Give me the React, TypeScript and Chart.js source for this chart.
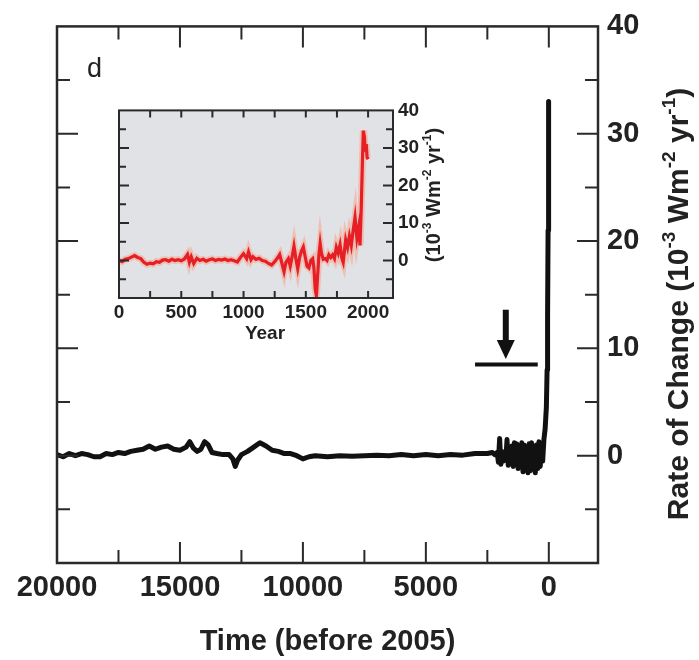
import React, { useEffect, useRef } from "react";
import { Chart, registerables } from "chart.js";

Chart.register(...registerables);

const FONT = "'Liberation Sans', Arial, Helvetica, sans-serif";
const INK = "#222222";

// ---------- main panel data (time before 2005, rate of change 10^-3 W m^-2 yr^-1) ----------
const mainTime = [
  20000, 19750, 19500, 19250, 19000, 18750, 18500, 18250, 18000, 17750, 17500, 17250, 17000, 16750,
  16500, 16250, 16000, 15750, 15500, 15250, 15000, 14750, 14600, 14450, 14300, 14150, 14000, 13850,
  13700, 13500, 13250, 13000, 12850, 12750, 12650, 12500, 12250, 12000, 11750, 11500, 11250, 11000,
  10750, 10500, 10250, 10000, 9750, 9500, 9000, 8500, 8000, 7500, 7000, 6500, 6000, 5500, 5000, 4500,
  4000, 3500, 3000, 2500, 2300, 2200, 2100, 2050, 2000, 1950, 1900, 1850, 1800, 1750, 1700, 1650,
  1600, 1550, 1500, 1450, 1400, 1350, 1300, 1250, 1200, 1150, 1100, 1050, 1000, 950, 900, 850, 800,
  750, 700, 650, 600, 550, 500, 450, 400, 350, 300, 250, 200, 150, 100, 70, 50, 30, 20, 10, 5, 0,
];
const mainRate = [
  0.1, -0.1, 0.2, 0.0, 0.2, 0.1, -0.1, -0.1, 0.2, 0.1, 0.3, 0.2, 0.4, 0.5,
  0.6, 0.9, 0.6, 0.8, 0.9, 0.6, 0.5, 0.8, 1.3, 0.7, 0.4, 0.6, 1.3, 1.0,
  0.3, 0.2, 0.1, 0.1, -0.3, -1.0, -0.4, 0.1, 0.4, 0.8, 1.2, 0.9, 0.5, 0.4,
  0.2, 0.2, 0.0, -0.3, -0.1, 0.0, -0.1, 0.0, -0.05, 0.0, 0.05, 0.0, 0.1, 0.0, 0.1, 0.0,
  0.1, 0.05, 0.2, 0.2, 0.3, 0.1, 0.3, -0.6, 1.6, -0.8, 0.4, -0.5, 0.2, -0.4, 1.5, -0.9,
  0.5, -0.7, 0.9, -1.0, 1.2, -0.8, 1.1, -1.2, 0.9, -0.6, 1.2, -1.5, 1.0, -1.3, 0.8, -1.6, 1.1,
  -1.4, 1.2, -0.9, 0.7, -1.6, 1.0, -1.2, 1.3, -1.0, 0.8, -0.5, 1.5, 2.5, 4.5, 8, 13, 21, 25, 31, 33, 28,
];
const mainXTickLabels = [20000, 15000, 10000, 5000, 0];
const mainXTickMarks = [17500, 15000, 12500, 10000, 7500, 5000, 2500, 0];
const mainYTickLabels = [0, 10, 20, 30, 40];
const mainYTickMarks = [-5, 0, 5, 10, 15, 20, 25, 30, 35];
const mainXTitle = "Time (before 2005)";
const mainYTitle = [
  { t: "Rate of Change (10", sup: false },
  { t: "-3", sup: true },
  { t: " Wm", sup: false },
  { t: "-2", sup: true },
  { t: " yr", sup: false },
  { t: "-1", sup: true },
  { t: ")", sup: false },
];
const panelLetter = "d";
// arrow annotation (data coordinates)
const arrowTime = 1750;
const arrowTop = 13.6;
const arrowTip = 9.0;
const barRate = 8.5;
const barFrom = 3000;
const barTo = 450;

// ---------- inset data (calendar year) ----------
const insetYear = [
  0, 25, 50, 75, 100, 125, 150, 175, 200, 225, 250, 275, 300, 325, 350, 375, 400, 425, 450, 475,
  500, 525, 550, 565, 580, 600, 625, 650, 675, 700, 725, 750, 775, 800, 825, 850, 875, 900, 925, 950,
  975, 1000, 1025, 1040, 1060, 1075, 1100, 1125, 1150, 1175, 1200, 1225, 1250, 1275, 1290, 1310, 1325,
  1340, 1360, 1375, 1390, 1405, 1420, 1435, 1450, 1465, 1480, 1495, 1510, 1525, 1540, 1555, 1565,
  1575, 1585, 1595, 1605, 1615, 1625, 1640, 1655, 1670, 1685, 1700, 1715, 1730, 1745, 1760, 1775,
  1790, 1800, 1810, 1820, 1835, 1850, 1865, 1880, 1895, 1910, 1925, 1935, 1945, 1955, 1962, 1970,
  1978, 1985, 1992, 2000,
];
const insetRate = [
  0.0, -0.3, 0.3, 0.5, 0.9, 1.3, 0.8, 0.5, -0.5, -1.0, -0.7, -0.9, -0.3, -0.5, 0.1, 0.2, -0.2, 0.3, 0.0, 0.2,
  -0.1, 0.4, 1.6, -0.5, 1.0, -0.8, 0.6, 0.0, 0.3, -0.2, 0.2, 0.4, 0.0, 0.3, 0.1, 0.4, 0.0, 0.2, -0.1, -0.4,
  0.8, 1.8, 0.5, 2.3, 0.2, 1.0, 0.3, 0.6, 0.0, -0.2, -0.8, -1.2, -0.3, 0.8, 1.6, -1.0, -3.0,
  -0.5, 0.5, -1.5, 1.0, 3.8, 0.5, -2.2, 0.8, 2.5, 3.6, 1.0, -1.5, -2.0, 0.0, 0.5, -2.0,
  -7.5, -9.5, -4.0, 1.5, 4.5, 2.0, 0.3, 0.5, 0.0, 1.5, 0.8, 1.5, 0.5, 3.5, 2.0, 4.2,
  0.5, -0.5, 2.5, 5.5, 3.5, 6.5, 4.0, 8.0, 11.5, 6.0, 9.0, 4.0, 14.0, 27.0, 34.6, 33.0,
  29.0, 31.0, 27.5, 27.0,
];
const insetXTickLabels = [0, 500, 1000, 1500, 2000];
const insetXTickMarks = [250, 500, 750, 1000, 1250, 1500, 1750, 2000];
const insetYTickLabels = [0, 10, 20, 30, 40];
const insetYTickMarks = [-5, 0, 5, 10, 15, 20, 25, 30, 35];
const insetXTitle = "Year";
const insetYTitle = [
  { t: "(10", sup: false },
  { t: "-3", sup: true },
  { t: " Wm", sup: false },
  { t: "-2", sup: true },
  { t: " yr", sup: false },
  { t: "-1", sup: true },
  { t: ")", sup: false },
];

type Seg = { t: string; sup: boolean };

function drawRotatedRich(ctx: CanvasRenderingContext2D, segs: Seg[], cx: number, cy: number, size: number, weight: string) {
  ctx.save();
  ctx.translate(cx, cy);
  ctx.rotate(-Math.PI / 2);
  const fontFor = (sup: boolean) => `${weight} ${sup ? Math.round(size * 0.62) : size}px ${FONT}`;
  let total = 0;
  for (const s of segs) {
    ctx.font = fontFor(s.sup);
    total += ctx.measureText(s.t).width;
  }
  let x = -total / 2;
  ctx.textAlign = "left";
  ctx.textBaseline = "alphabetic";
  ctx.fillStyle = INK;
  for (const s of segs) {
    ctx.font = fontFor(s.sup);
    ctx.fillText(s.t, x, s.sup ? -size * 0.45 : 0);
    x += ctx.measureText(s.t).width;
  }
  ctx.restore();
}

type FrameOpts = {
  xMarks: number[];
  xMajor: number[];
  yMarks: number[];
  yMajor: number[];
  majorLen: number;
  minorLen: number;
  yMajorLen: number;
  yMinorLen: number;
  tickWidth: number;
  frameWidth: number;
};

function frameTicks(ctx: CanvasRenderingContext2D, chart: any, o: FrameOpts) {
  const a = chart.chartArea;
  const xs = chart.scales.x;
  const ys = chart.scales.y;
  ctx.save();
  ctx.strokeStyle = "#2a2a2a";
  ctx.lineWidth = o.tickWidth;
  ctx.beginPath();
  for (const v of o.xMarks) {
    const px = xs.getPixelForValue(v);
    const len = o.xMajor.includes(v) ? o.majorLen : o.minorLen;
    ctx.moveTo(px, a.bottom);
    ctx.lineTo(px, a.bottom - len);
    ctx.moveTo(px, a.top);
    ctx.lineTo(px, a.top + len);
  }
  for (const v of o.yMarks) {
    const py = ys.getPixelForValue(v);
    const len = o.yMajor.includes(v) ? o.yMajorLen : o.yMinorLen;
    ctx.moveTo(a.left, py);
    ctx.lineTo(a.left + len, py);
    ctx.moveTo(a.right, py);
    ctx.lineTo(a.right - len, py);
  }
  ctx.stroke();
  ctx.lineWidth = o.frameWidth;
  ctx.strokeRect(a.left, a.top, a.right - a.left, a.bottom - a.top);
  ctx.restore();
}

export default function App() {
  const mainRef = useRef<HTMLCanvasElement | null>(null);
  const insetRef = useRef<HTMLCanvasElement | null>(null);

  useEffect(() => {
    if (!mainRef.current || !insetRef.current) return;

    const mainPoints = mainTime.map((t, i) => ({ x: t, y: mainRate[i] }));
    const insetPoints = insetYear.map((t, i) => ({ x: t, y: insetRate[i] }));

    const mainPlugin = {
      id: "mainDecor",
      afterDraw(chart: any) {
        const ctx = chart.ctx as CanvasRenderingContext2D;
        const xs = chart.scales.x;
        const ys = chart.scales.y;
        frameTicks(ctx, chart, {
          xMarks: mainXTickMarks,
          xMajor: mainXTickLabels,
          yMarks: mainYTickMarks,
          yMajor: mainYTickLabels,
          majorLen: 21,
          minorLen: 13,
          yMajorLen: 21,
          yMinorLen: 13,
          tickWidth: 2,
          frameWidth: 2.5,
        });
        // arrow + bar
        ctx.save();
        ctx.fillStyle = "#111";
        ctx.strokeStyle = "#111";
        const ax = xs.getPixelForValue(arrowTime);
        const aTop = ys.getPixelForValue(arrowTop);
        const aTip = ys.getPixelForValue(arrowTip);
        const headH = 19;
        ctx.lineWidth = 6;
        ctx.beginPath();
        ctx.moveTo(ax, aTop);
        ctx.lineTo(ax, aTip - headH + 2);
        ctx.stroke();
        ctx.beginPath();
        ctx.moveTo(ax - 9, aTip - headH);
        ctx.lineTo(ax + 9, aTip - headH);
        ctx.lineTo(ax, aTip);
        ctx.closePath();
        ctx.fill();
        const by = ys.getPixelForValue(barRate);
        ctx.lineWidth = 4;
        ctx.beginPath();
        ctx.moveTo(xs.getPixelForValue(barFrom), by);
        ctx.lineTo(xs.getPixelForValue(barTo), by);
        ctx.stroke();
        ctx.restore();
        // panel letter
        ctx.save();
        ctx.fillStyle = INK;
        ctx.font = `27px ${FONT}`;
        ctx.textAlign = "left";
        ctx.textBaseline = "alphabetic";
        ctx.fillText(panelLetter, 87, 77);
        ctx.restore();
        // right axis title
        drawRotatedRich(ctx, mainYTitle, 688, 304, 30, "bold");
      },
    };

    const main = new Chart(mainRef.current, {
      type: "line",
      data: {
        datasets: [
          {
            data: mainPoints,
            borderColor: "#111111",
            borderWidth: 5,
            pointRadius: 0,
            tension: 0,
            fill: false,
            borderJoinStyle: "round",
          },
        ],
      },
      options: {
        animation: false,
        responsive: false,
        devicePixelRatio: 1,
        layout: { padding: { left: 57, top: 23, right: 0, bottom: 0 } },
        plugins: { legend: { display: false }, tooltip: { enabled: false } },
        scales: {
          x: {
            type: "linear",
            reverse: true,
            min: -2000,
            max: 20000,
            position: "bottom",
            grid: { display: false, drawTicks: false },
            border: { display: false },
            afterBuildTicks: (s: any) => {
              s.ticks = mainXTickLabels.map((v) => ({ value: v }));
            },
            afterFit: (s: any) => {
              s.height = 97;
            },
            ticks: {
              autoSkip: false,
              maxRotation: 0,
              padding: 8,
              color: INK,
              font: { family: FONT, size: 29, weight: "bold" },
              callback: (v: any) => String(v),
            },
            title: {
              display: true,
              text: mainXTitle,
              color: INK,
              font: { family: FONT, size: 29, weight: "bold" },
              padding: { top: 0, bottom: 1 },
            },
          },
          y: {
            type: "linear",
            position: "right",
            min: -10,
            max: 40,
            grid: { display: false, drawTicks: false },
            border: { display: false },
            afterBuildTicks: (s: any) => {
              s.ticks = mainYTickLabels.map((v) => ({ value: v }));
            },
            afterFit: (s: any) => {
              s.width = 101;
            },
            ticks: {
              padding: 9,
              color: INK,
              font: { family: FONT, size: 29, weight: "bold" },
              callback: (v: any) => String(v),
            },
          },
        },
      },
      plugins: [mainPlugin],
    } as any);

    const insetPlugin = {
      id: "insetDecor",
      beforeDatasetsDraw(chart: any) {
        const ctx = chart.ctx as CanvasRenderingContext2D;
        const a = chart.chartArea;
        ctx.save();
        ctx.fillStyle = "#e1e2e6";
        ctx.fillRect(a.left, a.top, a.right - a.left, a.bottom - a.top);
        ctx.restore();
      },
      afterDraw(chart: any) {
        const ctx = chart.ctx as CanvasRenderingContext2D;
        frameTicks(ctx, chart, {
          xMarks: insetXTickMarks,
          xMajor: [],
          yMarks: insetYTickMarks,
          yMajor: insetYTickLabels,
          majorLen: 7,
          minorLen: 7,
          yMajorLen: 10,
          yMinorLen: 7,
          tickWidth: 2,
          frameWidth: 2,
        });
        ctx.save();
        ctx.fillStyle = INK;
        ctx.font = `bold 19px ${FONT}`;
        ctx.textAlign = "center";
        ctx.textBaseline = "middle";
        ctx.fillText(insetXTitle, 165, 240);
        ctx.restore();
        drawRotatedRich(ctx, insetYTitle, 340, 101, 20, "bold");
      },
    };

    const inset = new Chart(insetRef.current, {
      type: "line",
      data: {
        datasets: [
          {
            data: insetPoints,
            borderColor: "#e61e25",
            borderWidth: 3.2,
            pointRadius: 0,
            tension: 0,
            fill: false,
            order: 1,
          },
          {
            data: insetPoints,
            borderColor: "rgba(255,150,120,0.45)",
            borderWidth: 7,
            pointRadius: 0,
            tension: 0,
            fill: false,
            order: 2,
          },
        ],
      },
      options: {
        animation: false,
        responsive: false,
        devicePixelRatio: 1,
        layout: { padding: { left: 19, top: 12, right: 0, bottom: 0 } },
        plugins: { legend: { display: false }, tooltip: { enabled: false } },
        scales: {
          x: {
            type: "linear",
            min: 0,
            max: 2200,
            position: "bottom",
            grid: { display: false, drawTicks: false },
            border: { display: false },
            afterBuildTicks: (s: any) => {
              s.ticks = insetXTickLabels.map((v) => ({ value: v }));
            },
            afterFit: (s: any) => {
              s.height = 51;
            },
            ticks: {
              autoSkip: false,
              maxRotation: 0,
              padding: 3,
              color: INK,
              font: { family: FONT, size: 19, weight: "bold" },
              callback: (v: any) => String(v),
            },
          },
          y: {
            type: "linear",
            position: "right",
            min: -10,
            max: 40,
            grid: { display: false, drawTicks: false },
            border: { display: false },
            afterBuildTicks: (s: any) => {
              s.ticks = insetYTickLabels.map((v) => ({ value: v }));
            },
            afterFit: (s: any) => {
              s.width = 67;
            },
            ticks: {
              padding: 5,
              color: INK,
              font: { family: FONT, size: 19, weight: "bold" },
              callback: (v: any) => String(v),
            },
          },
        },
      },
      plugins: [insetPlugin],
    } as any);

    return () => {
      main.destroy();
      inset.destroy();
    };
  }, []);

  return (
    <div style={{ position: "absolute", left: 0, top: 0, width: 699, height: 660, background: "#ffffff" }}>
      <canvas ref={mainRef} width={699} height={660} style={{ position: "absolute", left: 0, top: 0, width: 699, height: 660 }} />
      <canvas ref={insetRef} width={360} height={255} style={{ position: "absolute", left: 100, top: 94, width: 360, height: 255 }} />
    </div>
  );
}
